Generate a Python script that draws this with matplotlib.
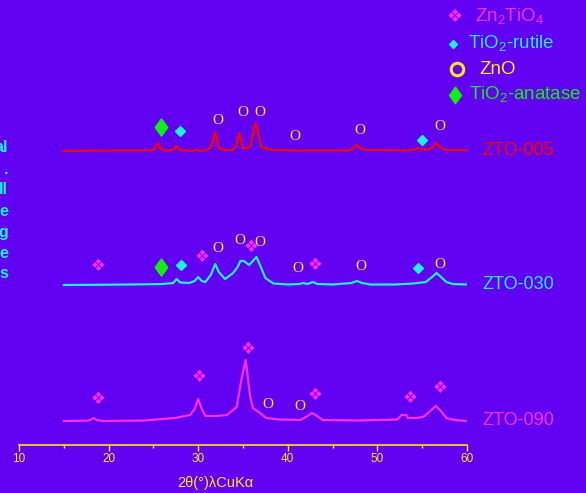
import matplotlib
matplotlib.use("Agg")
import matplotlib.pyplot as plt

plt.rcParams["font.family"] = ["Liberation Sans", "DejaVu Sans"]
plt.rcParams["mathtext.fontset"] = "custom"
plt.rcParams["mathtext.rm"] = "Liberation Sans"

BG = "#6200f2"
YELLOW = "#ffe619"
RED = "#ff0000"
CYAN = "#1ef0f0"
MAGENTA = "#ff2cff"
GREEN = "#10f010"

# XRD patterns: 2theta (deg) and intensity above each curve's baseline (a.u.)
theta_005 = [15.0, 20.0, 24.6, 25.1, 25.5, 25.9, 26.5, 27.2, 27.6, 28.0, 28.6, 30.8, 31.4, 31.9,
             32.3, 32.9, 33.8, 34.2, 34.6, 35.0, 35.5, 35.9, 36.2, 36.4, 36.7, 37.0, 37.6, 38.6,
             41.0, 46.9, 47.4, 47.7, 48.1, 48.7, 53.6, 54.2, 54.5, 54.9, 55.6, 56.2, 56.6, 57.0,
             57.6, 60.0]
int_005 = [0, 0.5, 0.5, 1.5, 8, 1.5, 0.5, 1, 5, 1, 0.5, 0.5, 3, 19,
           3, 1, 1, 4, 18, 3, 2, 6, 22, 28, 18, 5, 2, 1,
           0.5, 0.5, 3.5, 6, 3, 1, 0.5, 2, 3, 2, 1, 4, 8, 4,
           1, 0.5]

theta_030 = [15.0, 20.0, 24.0, 26.0, 27.2, 27.6, 28.0, 29.0, 29.6, 30.0, 30.4, 30.8, 31.4, 31.9,
             32.3, 33.0, 33.9, 34.4, 34.7, 35.1, 35.7, 36.1, 36.5, 36.9, 37.5, 38.4, 40.0, 41.3,
             41.7, 42.2, 42.8, 43.3, 45.0, 47.1, 47.7, 48.3, 49.2, 52.0, 54.0, 55.4, 56.1, 56.6,
             57.1, 57.7, 58.4, 60.0]
int_030 = [0, 0.3, 0.7, 1, 2, 6, 2.5, 2, 4, 8, 4, 3, 10, 21,
           13, 6, 12, 18, 24, 24, 20, 24, 28, 20, 7, 1.5, 0.5, 1,
           2, 1, 3, 1, 0.5, 2, 4, 2, 0.5, 0.5, 1.5, 3, 8, 12,
           8, 3, 1, 0.5]

theta_090 = [15.0, 17.6, 18.0, 18.3, 18.7, 19.4, 24.0, 27.4, 29.1, 29.6, 30.0, 30.4, 30.8, 32.0,
             33.2, 34.3, 34.85, 35.3, 35.8, 36.1, 36.9, 37.6, 39.0, 41.4, 42.2, 42.7, 43.1, 43.9,
             48.0, 52.2, 52.7, 53.2, 53.4, 54.2, 55.1, 55.9, 56.5, 57.0, 57.7, 58.6, 60.0]
int_090 = [0, 0.3, 1, 3, 1, 0, 0.5, 3, 6, 12, 22, 12, 5, 5,
           6, 14, 43, 61, 24, 13, 8, 3, 1.5, 1, 5, 8, 6, 1,
           0.5, 1.5, 6, 6, 3, 3, 4, 10, 15, 11, 3, 1, 0]

samples = ["ZTO-005", "ZTO-030", "ZTO-090"]
offsets = [293.7, 159.7, 23.7]
colors = [RED, CYAN, MAGENTA]

# phase markers (2theta, height)
zno_theta = [32.2, 35.0, 36.9, 40.8, 48.0, 57.0, 32.2, 34.6, 36.9, 41.1, 48.1, 57.0, 37.8, 41.4]
zno_y = [323.7, 331.7, 332.7, 308.7, 313.7, 318.7, 196.7, 203.7, 201.7, 176.7, 177.7, 180.7,
         40.7, 37.7]
znti_theta = [18.8, 30.4, 35.9, 43.0, 18.8, 30.1, 35.6, 43.0, 53.6, 57.0]
znti_y = [178.7, 187.7, 197.7, 179.7, 45.7, 67.7, 95.7, 49.7, 46.7, 56.7]
rutile_theta = [28.0, 55.0, 28.1, 54.5]
rutile_y = [313.7, 304.7, 179.7, 176.7]
anatase_theta = [25.85, 25.85]
anatase_y = [317.7, 177.7]

legend_labels = [r"Zn$_2$TiO$_4$", r"TiO$_2$-rutile", "ZnO", r"TiO$_2$-anatase"]
legend_colors = [MAGENTA, CYAN, YELLOW, GREEN]

TALL_DIAMOND = [(0, 1), (0.72, 0), (0, -1), (-0.72, 0), (0, 1)]

fig = plt.figure(figsize=(5.86, 4.93), dpi=100, facecolor=BG)
ax = fig.add_axes([19 / 586, 48.3 / 493, 448 / 586, 444.7 / 493])
ax.set_facecolor(BG)

for th, inten, off, col, name in zip([theta_005, theta_030, theta_090],
                                      [int_005, int_030, int_090],
                                      offsets, colors, samples):
    ax.plot(th, [v + off for v in inten], color=col, lw=1.6)
    ax.text(61.7, off + 0.5, name, color=col, fontsize=13, ha="left", va="center",
            clip_on=False)

for x, y in zip(zno_theta, zno_y):
    ax.text(x, y, "O", color=YELLOW, fontsize=11, family="Liberation Serif",
            ha="center", va="center")
for x, y in zip(znti_theta, znti_y):
    ax.text(x, y, "\u2756", color=MAGENTA, fontsize=12, family="DejaVu Sans",
            ha="center", va="center")
ax.plot(rutile_theta, rutile_y, "D", color=CYAN, ms=5.5, ls="none")
ax.plot(anatase_theta, anatase_y, marker=TALL_DIAMOND, color=GREEN, ms=12.5, ls="none")

ax.set_xlim(10, 60)
ax.set_ylim(0, 444.7)
ax.set_xticks([10, 20, 30, 40, 50, 60])
ax.set_xticks([15, 25, 35, 45, 55], minor=True)
ax.set_yticks([])
for s in ["left", "right", "top"]:
    ax.spines[s].set_visible(False)
ax.spines["bottom"].set_color(YELLOW)
ax.spines["bottom"].set_linewidth(1.2)
ax.tick_params(axis="x", which="major", colors=YELLOW, length=4, width=1, labelsize=8.5, pad=2)
ax.tick_params(axis="x", which="minor", colors=YELLOW, length=2.5, width=1)
fig.text(215 / 586, 1 - 483 / 493, "2\u03b8(\u00b0)\u03bbCuK\u03b1", color=YELLOW, fontsize=10.5,
         ha="center", va="center")

# overlay in pixel coordinates for legend and clipped side text
lax = fig.add_axes([0, 0, 1, 1])
lax.set_xlim(0, 586)
lax.set_ylim(493, 0)
lax.axis("off")

rows = [17, 44, 69, 95]
lax.text(455, rows[0], "\u2756", color=MAGENTA, fontsize=13, family="DejaVu Sans",
         ha="center", va="center")
lax.plot([453], [rows[1]], "D", color=CYAN, ms=4.5)
lax.plot([457], [rows[2]], "o", mfc="none", mec=YELLOW, mew=2.2, ms=9)
lax.plot([455], [rows[3]], marker=TALL_DIAMOND, color=GREEN, ms=12)
for xt, y, lab, col in zip([475, 468, 479, 469], rows, legend_labels, legend_colors):
    lax.text(xt, y, lab, color=col, fontsize=13.5, ha="left", va="center")

lax.text(8, 211, "al\n.\nll\ne\ng\ne\ns", color=CYAN, fontsize=11.5, fontweight="bold",
         ha="right", va="center", multialignment="right", linespacing=1.5)

fig.savefig("out.png", dpi=100, facecolor=BG)
